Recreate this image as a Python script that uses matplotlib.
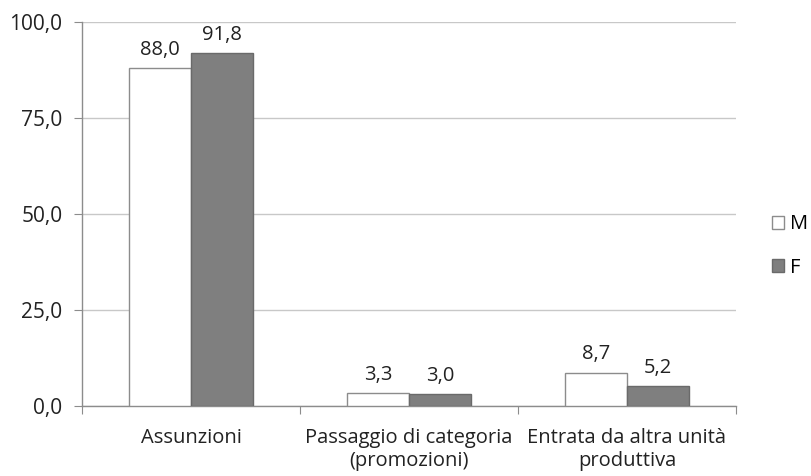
import matplotlib
matplotlib.use("Agg")
import matplotlib.pyplot as plt
import numpy as np

categories = ["Assunzioni", "Passaggio di categoria\n(promozioni)", "Entrata da altra unità\nproduttiva"]
series_names = ["M", "F"]
values_M = [88.0, 3.3, 8.7]
values_F = [91.8, 3.0, 5.2]
yticks = [0, 25, 50, 75, 100]

plt.rcParams['font.family'] = ['Open Sans', 'DejaVu Sans']
FS = 14.5

fig = plt.figure(figsize=(8.12, 4.76), dpi=100)
ax = fig.add_axes([82/812, 70/476, 654/812, 384/476])

x = np.arange(len(categories))
w = 0.285
b1 = ax.bar(x - w/2, values_M, w, color='white', edgecolor='#8c8c8c', linewidth=1.0, label=series_names[0], zorder=3)
b2 = ax.bar(x + w/2, values_F, w, color='#7f7f7f', edgecolor='#6a6a6a', linewidth=1.0, label=series_names[1], zorder=3)

def fmt(v):
    return f"{v:.1f}".replace('.', ',')

for rects, vals in ((b1, values_M), (b2, values_F)):
    for r, v in zip(rects, vals):
        ax.annotate(fmt(v), (r.get_x() + r.get_width()/2, v), xytext=(0, 6),
                    textcoords='offset points', ha='center', va='bottom', fontsize=FS, color='#222222')

ax.set_xlim(-0.5, len(categories) - 0.5)
ax.set_ylim(0, 100)
ax.set_yticks(yticks)
ax.set_yticklabels([fmt(float(t)) for t in yticks], fontsize=FS + 0.5, color='#222222')
ax.yaxis.grid(True, color='#c8c8c8', linewidth=1.0, zorder=0)
ax.set_axisbelow(True)

ax.set_xticks(np.arange(len(categories) + 1) - 0.5)
ax.set_xticklabels([])
ax.set_xticks(x, minor=True)
ax.set_xticklabels(categories, minor=True, fontsize=FS, color='#222222', linespacing=1.2)
ax.tick_params(axis='x', which='minor', length=0, pad=16)
ax.tick_params(axis='x', which='major', length=6, color='#8c8c8c', direction='out')
ax.tick_params(axis='y', length=6, color='#8c8c8c', direction='out', pad=8)

for s in ['top', 'right']:
    ax.spines[s].set_visible(False)
for s in ['left', 'bottom']:
    ax.spines[s].set_color('#8c8c8c')
    ax.spines[s].set_linewidth(1.0)

leg = fig.legend(handles=[b1, b2], labels=series_names, loc='center left',
                 bbox_to_anchor=(754/812, 1 - 246/476), frameon=False, fontsize=FS,
                 handlelength=0.6, handleheight=0.6, handletextpad=0.3, labelspacing=1.15)

fig.savefig("out.png", dpi=100)
